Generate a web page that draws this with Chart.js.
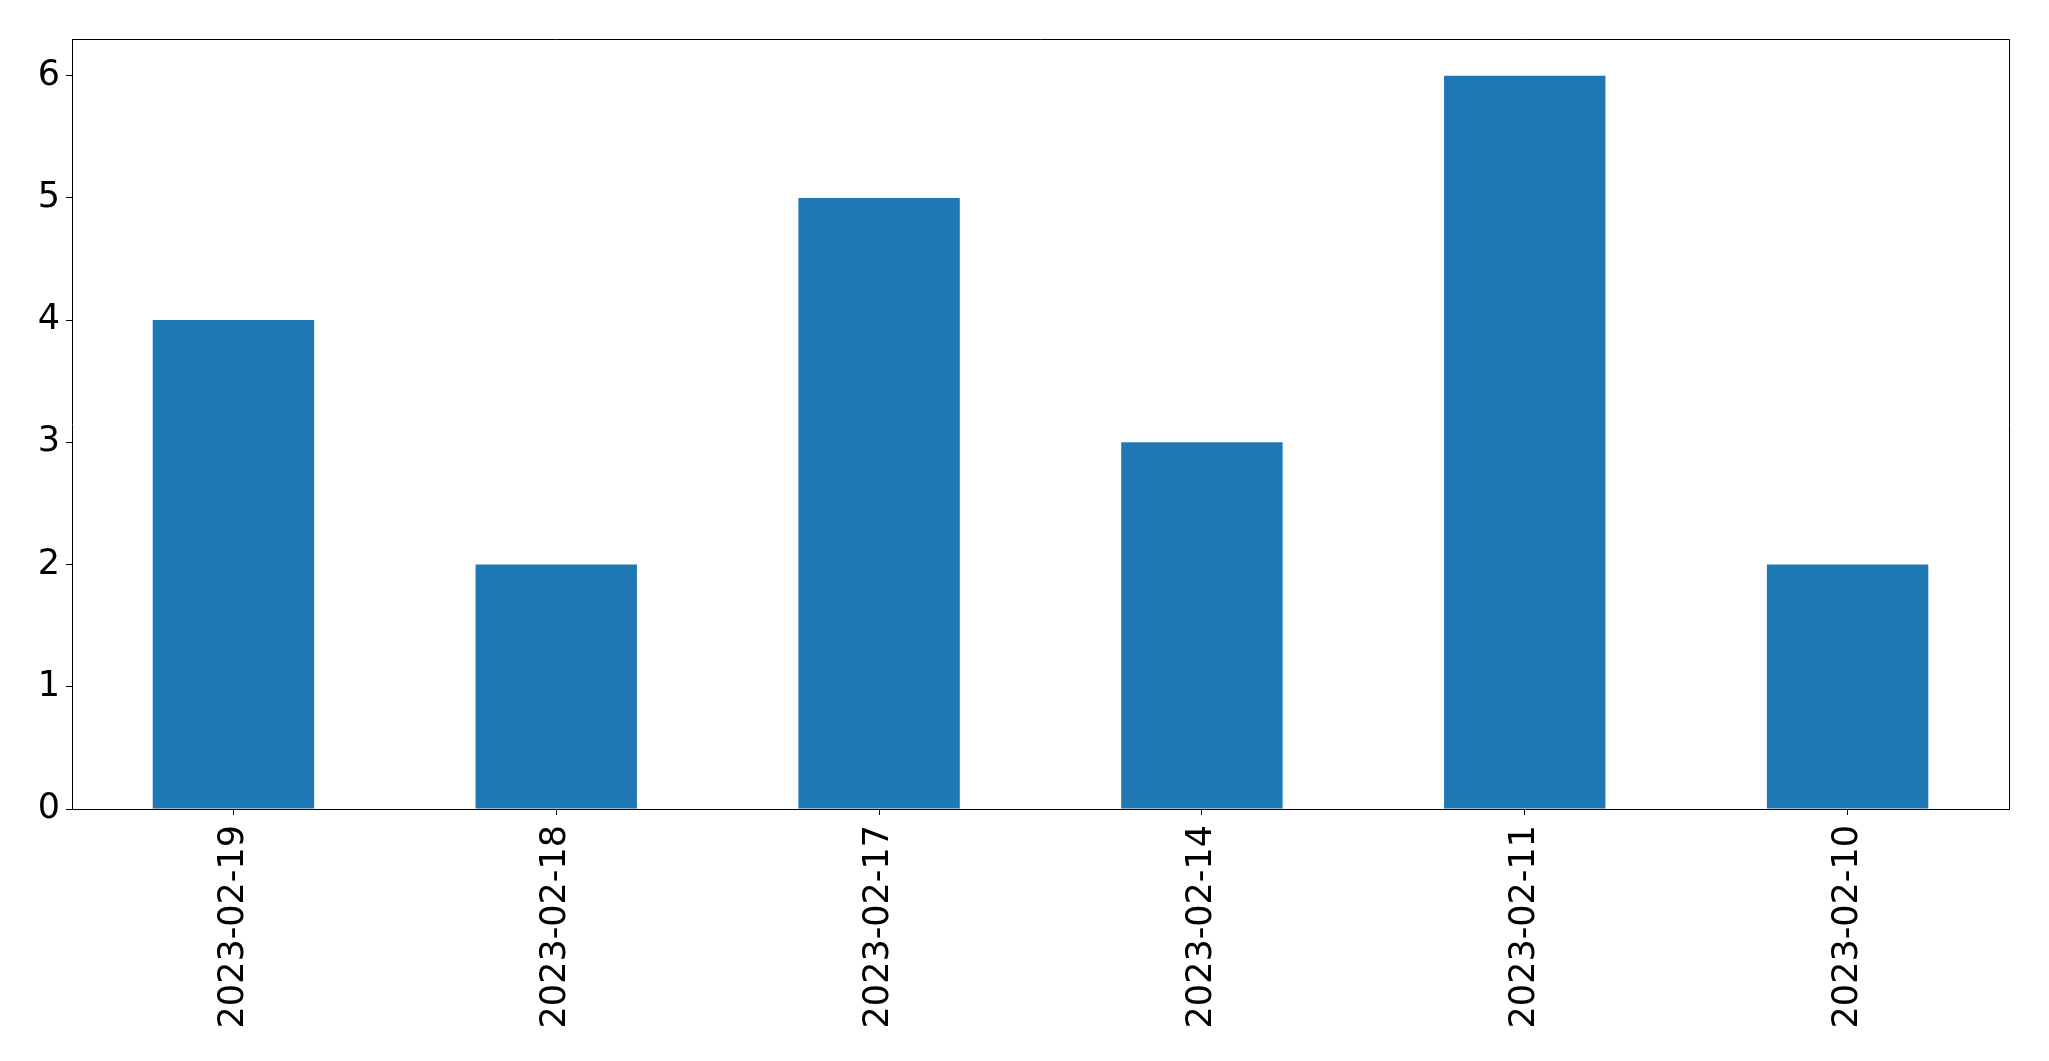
<!DOCTYPE html>
<html>
<head>
<meta charset="utf-8">
<style>
  html, body { margin: 0; padding: 0; background: #fff; }
  #wrap { width: 2049px; height: 1061px; }
</style>
<script src="https://cdn.jsdelivr.net/npm/chart.js@4/dist/chart.umd.min.js"></script>
</head>
<body>
<div id="wrap"><canvas id="myChart" width="2049" height="1061"></canvas></div>
<script>
const dates = ['2023-02-19', '2023-02-18', '2023-02-17', '2023-02-14', '2023-02-11', '2023-02-10'];
const counts = [4, 2, 5, 3, 6, 2];
const yTicks = [0, 1, 2, 3, 4, 5, 6];

// draws the top and right edges of the axes box
const frame = {
  id: 'frame',
  afterDraw(chart) {
    const a = chart.chartArea;
    const ctx = chart.ctx;
    ctx.save();
    ctx.strokeStyle = '#000';
    ctx.lineWidth = 1;
    ctx.beginPath();
    ctx.moveTo(a.left, a.top + 0.5);
    ctx.lineTo(a.right + 0.5, a.top + 0.5);
    ctx.lineTo(a.right + 0.5, a.bottom);
    ctx.stroke();
    ctx.restore();
  }
};

const font = { family: 'DejaVu Sans', size: 35 };

new Chart(document.getElementById('myChart'), {
  type: 'bar',
  data: {
    labels: dates,
    datasets: [{
      data: counts,
      backgroundColor: '#1f77b4',
      borderWidth: 0,
      barPercentage: 0.5,
      categoryPercentage: 1.0
    }]
  },
  options: {
    responsive: false,
    animation: false,
    layout: { padding: { left: 0, top: 39, right: 40, bottom: 0 } },
    plugins: { legend: { display: false }, tooltip: { enabled: false } },
    scales: {
      x: {
        grid: { display: true, offset: false, drawOnChartArea: false, tickLength: 6, color: '#000' },
        border: { display: true, color: '#000', width: 1 },
        ticks: { font: font, color: '#000', maxRotation: 90, minRotation: 90, padding: 10 },
        afterFit(scale) { scale.height = 252; }
      },
      y: {
        min: 0,
        max: 6.3,
        afterBuildTicks(scale) { scale.ticks = yTicks.map(v => ({ value: v })); },
        grid: { display: true, drawOnChartArea: false, tickLength: 6, color: '#000' },
        border: { display: true, color: '#000', width: 1 },
        ticks: { font: font, color: '#000', padding: 6 },
        afterFit(scale) { scale.width = 72; }
      }
    }
  },
  plugins: [frame]
});
</script>
</body>
</html>
